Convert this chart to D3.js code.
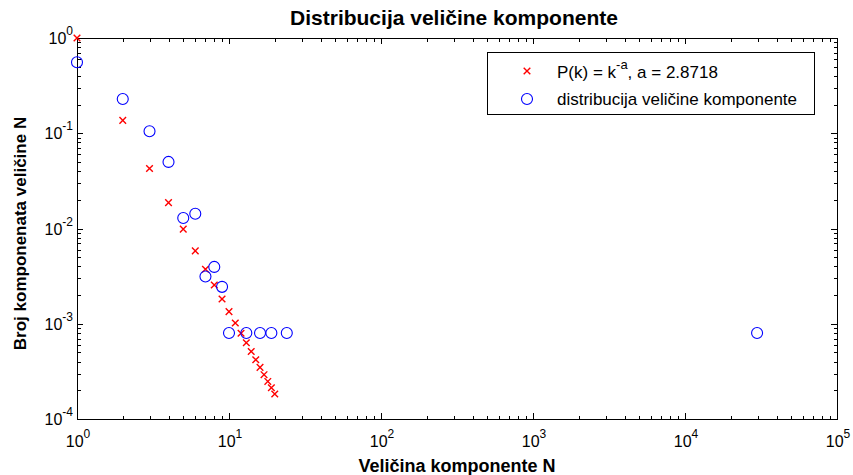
<!DOCTYPE html>
<html>
<head>
<meta charset="utf-8">
<script src="https://cdn.jsdelivr.net/npm/d3@7"></script>
<style>
  html, body { margin: 0; padding: 0; background: #fff; }
  svg { display: block; }
  text { font-family: "Liberation Sans", Arial, Helvetica, sans-serif; fill: #000; }
</style>
</head>
<body>
<svg id="chart" width="853" height="475"></svg>
<script>
// ---- data ----
const fitK = [1, 2, 3, 4, 5, 6, 7, 8, 9, 10, 11, 12, 13, 14, 15, 16, 17, 18, 19, 20];
const fitP = [1, 0.1366, 0.0426, 0.0187, 0.00984, 0.00582, 0.00374, 0.00255, 0.00182, 0.00134,
              0.00102, 0.000795, 0.000632, 0.000511, 0.000419, 0.000348, 0.000292, 0.000248, 0.000213, 0.000183];
const compSize = [1, 2, 3, 4, 5, 6, 7, 8, 9, 10, 13, 16, 19, 24, 29800];
const compFreq = [0.556, 0.229, 0.105, 0.050, 0.0129, 0.0143, 0.00313, 0.00395, 0.00244,
                  0.0008, 0.0008, 0.0008, 0.0008, 0.0008, 0.0008];
const xTickExp = [0, 1, 2, 3, 4, 5];
const yTickExp = [0, -1, -2, -3, -4];
const titleText = "Distribucija veličine komponente";
const xLabelText = "Veličina komponente N";
const yLabelText = "Broj komponenata veličine N";
const legendFit = ["P(k) = k", "-a", ", a = 2.8718"];
const legendData = "distribucija veličine komponente";

// ---- layout ----
const W = 853, H = 475;
const m = { left: 77, top: 38, right: 16, bottom: 56 };
const pw = W - m.left - m.right, ph = H - m.top - m.bottom;

const svg = d3.select("#chart");
const x = d3.scaleLog().domain([1, 1e5]).range([m.left, m.left + pw]);
const y = d3.scaleLog().domain([1e-4, 1]).range([m.top + ph, m.top]);

// minor tick values
const xMinor = [], yMinor = [];
for (let e = 0; e < 5; e++) for (let k = 2; k <= 9; k++) xMinor.push(k * Math.pow(10, e));
for (let e = -4; e < 0; e++) for (let k = 2; k <= 9; k++) yMinor.push(k * Math.pow(10, e));
const xMajor = xTickExp.map(e => Math.pow(10, e));
const yMajor = yTickExp.map(e => Math.pow(10, e));

const MAJ = 6, MIN = 3.5;
const g = svg.append("g").attr("stroke", "#000").attr("stroke-width", 1).attr("fill", "none");
// frame
g.append("rect").attr("x", m.left + 0.5).attr("y", m.top + 0.5)
  .attr("width", pw).attr("height", ph).attr("shape-rendering", "crispEdges");

function xt(vals, len) {
  vals.forEach(v => {
    const px = Math.round(x(v)) + 0.5;
    g.append("line").attr("x1", px).attr("x2", px).attr("y1", m.top + ph).attr("y2", m.top + ph - len);
    g.append("line").attr("x1", px).attr("x2", px).attr("y1", m.top).attr("y2", m.top + len);
  });
}
function yt(vals, len) {
  vals.forEach(v => {
    const py = Math.round(y(v)) + 0.5;
    g.append("line").attr("y1", py).attr("y2", py).attr("x1", m.left).attr("x2", m.left + len);
    g.append("line").attr("y1", py).attr("y2", py).attr("x1", m.left + pw).attr("x2", m.left + pw - len);
  });
}
xt(xMinor, MIN); xt(xMajor, MAJ); yt(yMinor, MIN); yt(yMajor, MAJ);
g.selectAll("line").attr("shape-rendering", "crispEdges");

// tick labels
const TFS = 16;
xTickExp.forEach(e => {
  const t = svg.append("text").attr("x", x(Math.pow(10, e)) + 1).attr("y", m.top + ph + 28)
    .attr("text-anchor", "middle").style("font-size", TFS + "px");
  t.append("tspan").text("10");
  t.append("tspan").attr("dy", -9).style("font-size", "12px").text(String(e));
});
yTickExp.forEach(e => {
  const t = svg.append("text").attr("x", m.left - 4).attr("y", y(Math.pow(10, e)) + 6)
    .attr("text-anchor", "end").style("font-size", TFS + "px");
  t.append("tspan").text("10");
  t.append("tspan").attr("dy", -9).style("font-size", "12px").text(String(e));
});

// title and labels
svg.append("text").attr("x", m.left + pw / 2 - 3).attr("y", 25).attr("text-anchor", "middle")
  .style("font-size", "21px").style("font-weight", "bold").text(titleText);
svg.append("text").attr("x", m.left + pw / 2).attr("y", 472).attr("text-anchor", "middle")
  .style("font-size", "18px").style("font-weight", "bold").text(xLabelText);
svg.append("text").attr("transform", `translate(26,${m.top + ph / 2 + 5}) rotate(-90)`)
  .attr("text-anchor", "middle").style("font-size", "17px").style("font-weight", "bold").text(yLabelText);

// markers
const XS = 3.3;
function cross(sel, cx, cy, s) {
  sel.append("path").attr("d", `M${cx - s},${cy - s}L${cx + s},${cy + s}M${cx - s},${cy + s}L${cx + s},${cy - s}`)
    .style("stroke", "#ff0000").attr("stroke-width", 1.4).attr("fill", "none");
}
const marks = svg.append("g");
fitK.forEach((k, i) => cross(marks, x(k), y(fitP[i]), XS));
compSize.forEach((s, i) => {
  marks.append("circle").attr("cx", x(s)).attr("cy", y(compFreq[i])).attr("r", 5.5)
    .attr("fill", "none").style("stroke", "#0000ff").attr("stroke-width", 1.1);
});

// legend
const L = { x: 487, y: 52, w: 327, h: 62 };
svg.append("rect").attr("x", L.x + 0.5).attr("y", L.y + 0.5).attr("width", L.w).attr("height", L.h)
  .attr("fill", "#fff").attr("stroke", "#000").attr("stroke-width", 1).attr("shape-rendering", "crispEdges");
cross(svg, 527, 71, XS);
svg.append("circle").attr("cx", 527).attr("cy", 99).attr("r", 5.5)
  .attr("fill", "none").style("stroke", "#0000ff").attr("stroke-width", 1.1);
const lt = svg.append("text").attr("x", 557).attr("y", 78).style("font-size", "17px");
lt.append("tspan").text(legendFit[0]);
lt.append("tspan").attr("dy", -9).style("font-size", "13px").text(legendFit[1]);
lt.append("tspan").attr("dy", 9).text(legendFit[2]);
svg.append("text").attr("x", 557).attr("y", 105).style("font-size", "17px").text(legendData);
</script>
</body>
</html>
